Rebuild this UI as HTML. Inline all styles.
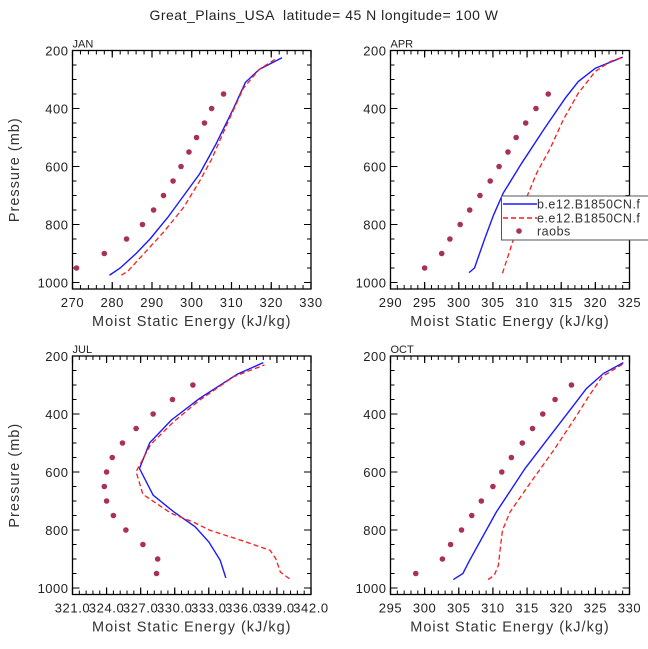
<!DOCTYPE html>
<html><head><meta charset="utf-8"><style>
html,body{margin:0;padding:0;background:#fff;width:648px;height:649px;overflow:hidden}
svg{display:block;font-family:"Liberation Sans",sans-serif}
</style></head><body>
<svg id="c" width="648" height="649" xmlns="http://www.w3.org/2000/svg">
<text x="324" y="20" text-anchor="middle" font-size="14" fill="#222" letter-spacing="0.5" style="white-space:pre">Great_Plains_USA  latitude= 45 N longitude= 100 W</text>
</svg>
<script>
const janBlueX=[279.3,282,286,289.5,294,298,302,306,310.5,313.5,317,322.7];
const janBlueP=[975,950,900,850,775,700,625,525,400,310,265,225];
const janRedX=[282.3,284,288,293,298,302,305,309,313,317,321];
const janRedP=[975,960,900,825,740,650,575,450,330,265,230];
const janObsX=[271,278,283.6,287.6,290.4,292.9,295.3,297.3,299.3,301.2,303.2,305.0,308.0];
const janObsP=[950,900,850,800,750,700,650,600,550,500,450,400,350];
const aprBlueX=[301.5,302.3,303.8,305.1,306.5,309.2,312.4,315.6,317.5,320,324];
const aprBlueP=[966,950,849,767,692,589,474,364,307,261,223];
const aprRedX=[306.4,307.5,308.7,310,311.4,313.4,315.3,317.5,320,322.2,324];
const aprRedP=[968,888,801,703,623,537,439,347,272,238,223];
const aprObsX=[295.0,297.5,298.7,300.2,301.6,303.1,304.6,305.9,307.2,308.4,309.8,311.3,313.1];
const aprObsP=[950,900,850,800,750,700,650,600,550,500,450,400,350];
const julBlueX=[334.5,334.0,333.0,331.8,329.9,328.1,326.9,327.8,329.7,332.2,335.5,337.8];
const julBlueP=[965,904,841,789,737,680,588,499,421,346,263,223];
const julRedX=[340.1,339.3,338.9,338.4,335.8,333.1,331.6,329.7,327.2,326.6,327.9,329.9,332.2,335.2,337.9];
const julRedP=[968,945,899,870,835,801,772,743,677,599,504,427,352,271,231];
const julObsX=[331.6,329.8,328.1,326.6,325.4,324.5,324.0,323.8,324.0,324.6,325.7,327.2,328.5,328.4];
const julObsP=[300,350,400,450,500,550,600,650,700,750,800,850,900,950];
const octBlueX=[304.2,305.6,306.6,310.5,314.7,317.9,321.3,323.7,326.2,329.1];
const octBlueP=[971,950,904,738,588,490,386,312,260,223];
const octRedX=[309.3,310.2,310.8,311.1,311.4,312.5,315.4,318.9,322.0,324.0,326.0,329.0];
const octRedP=[971,956,922,858,801,738,640,525,415,340,271,228];
const octObsX=[298.7,302.6,303.8,305.4,306.9,308.3,310.0,311.3,312.7,314.3,315.8,317.3,319.1,321.5];
const octObsP=[950,900,850,800,750,700,650,600,550,500,450,400,350,300];
const pTicks=[200,400,600,800,1000];
const janXTicks=[270,280,290,300,310,320,330];
const aprXTicks=[290,295,300,305,310,315,320,325];
const julXTicks=["321.0","324.0","327.0","330.0","333.0","336.0","339.0","342.0"];
const octXTicks=[295,300,305,310,315,320,325,330];
const legendLabels=["b.e12.B1850CN.f","e.e12.B1850CN.f","raobs"];

const NS="http://www.w3.org/2000/svg";
const svg=document.getElementById('c');
function mk(tag,at,parent){const e=document.createElementNS(NS,tag);for(const k in at)e.setAttribute(k,at[k]);(parent||svg).appendChild(e);return e;}

function panel(name,L,R,T,xmin,xmax,xticks,minorStep,blueX,blueP,redX,redP,obsX,obsP,showY){
  const P200=T, P1000=T+232, B=T+238.5;
  const g=mk('g',{});
  
  
  const sx=v=>L+(v-xmin)/(xmax-xmin)*(R-L);
  const sy=p=>P200+(p-200)/800*(P1000-P200);
  const fr=mk('rect',{x:L,y:T,width:R-L,height:B-T,fill:'none',stroke:'#000','stroke-width':1.3},g);
  
  
  for(let v=xmin;v<=xmax+1e-6;v+=minorStep){
    const x=sx(v);
    mk('line',{x1:x,y1:B,x2:x,y2:B-4,stroke:'#000','stroke-width':1},g);
    mk('line',{x1:x,y1:T,x2:x,y2:T+4,stroke:'#000','stroke-width':1},g);
  }
  xticks.forEach(t=>{
    const x=sx(parseFloat(t));
    mk('line',{x1:x,y1:B,x2:x,y2:B-7,stroke:'#000','stroke-width':1.2},g);
    mk('line',{x1:x,y1:T,x2:x,y2:T+7,stroke:'#000','stroke-width':1.2},g);
    const tx=mk('text',{x:x,y:B+18,'text-anchor':'middle','font-size':13,'letter-spacing':0.6,fill:'#222'},g);
    tx.textContent=t;
    
    
  });
  for(let p=200;p<=1000;p+=50){
    const y=sy(p), maj=p%200===0, len=maj?7:4;
    mk('line',{x1:L,y1:y,x2:L+len,y2:y,stroke:'#000','stroke-width':1},g);
    mk('line',{x1:R,y1:y,x2:R-len,y2:y,stroke:'#000','stroke-width':1},g);
  }
  pTicks.forEach(p=>{
    const tx=mk('text',{x:L-4,y:sy(p)+5,'text-anchor':'end','font-size':13,'letter-spacing':0.5,fill:'#222'},g);
    tx.textContent=p;
    
    
  });
  const xt=mk('text',{x:(L+R)/2,y:B+37,'text-anchor':'middle','font-size':14.5,fill:'#333','letter-spacing':'1'},g);
  xt.textContent='Moist Static Energy (kJ/kg)';
  
  
  if(showY){
    const yt=mk('text',{x:0,y:0,'text-anchor':'middle','font-size':14.5,fill:'#333','letter-spacing':'1',transform:`translate(19,${(T+B)/2}) rotate(-90)`},g);
    yt.textContent='Pressure (mb)';
    
    
  }
  const lab=mk('text',{x:L,y:T-3,'font-size':11,fill:'#222'},g);
  lab.textContent=name.toUpperCase();
  
  
  const bl=mk('polyline',{points:blueX.map((v,i)=>sx(v)+','+sy(blueP[i])).join(' '),fill:'none',stroke:'#1a1aff','stroke-width':1.4},g);
  
  
  const rl=mk('polyline',{points:redX.map((v,i)=>sx(v)+','+sy(redP[i])).join(' '),fill:'none',stroke:'#ff1a1a','stroke-width':1.3,'stroke-dasharray':'5,3'},g);
  
  
  obsX.forEach((v,i)=>{
    const c=mk('circle',{cx:sx(v),cy:sy(obsP[i]),r:2.8,fill:'#a83256'},g);
    
    
  });
}
panel('jan',72.5,311,50.5,270,330,janXTicks,2,janBlueX,janBlueP,janRedX,janRedP,janObsX,janObsP,true);
panel('apr',390.5,629.5,50.5,290,325,aprXTicks,1,aprBlueX,aprBlueP,aprRedX,aprRedP,aprObsX,aprObsP,false);
panel('jul',72.5,311,356,321,342,julXTicks,0.6,julBlueX,julBlueP,julRedX,julRedP,julObsX,julObsP,true);
panel('oct',390.5,629.5,356,295,330,octXTicks,1,octBlueX,octBlueP,octRedX,octRedP,octObsX,octObsP,false);

const lg=mk('g',{});


mk('rect',{x:501.5,y:196,width:160,height:44,fill:'#fff',stroke:'#555','stroke-width':1},lg);
const rows=[{y:204,c:'#1a1aff',d:''},{y:218,c:'#ff1a1a',d:'5,3'},{y:231,c:null}];
rows.forEach((r,i)=>{
  if(r.c){mk('line',{x1:503,y1:r.y,x2:537,y2:r.y,stroke:r.c,'stroke-width':1.4,'stroke-dasharray':r.d||'none'},lg);}
  else{mk('circle',{cx:519,cy:r.y,r:2.8,fill:'#a83256'},lg);}
  const t=mk('text',{x:537,y:r.y+4.5,'font-size':12.5,'letter-spacing':0.5,fill:'#333'},lg);
  t.textContent=legendLabels[i];
  
  
});
</script>
</body></html>
